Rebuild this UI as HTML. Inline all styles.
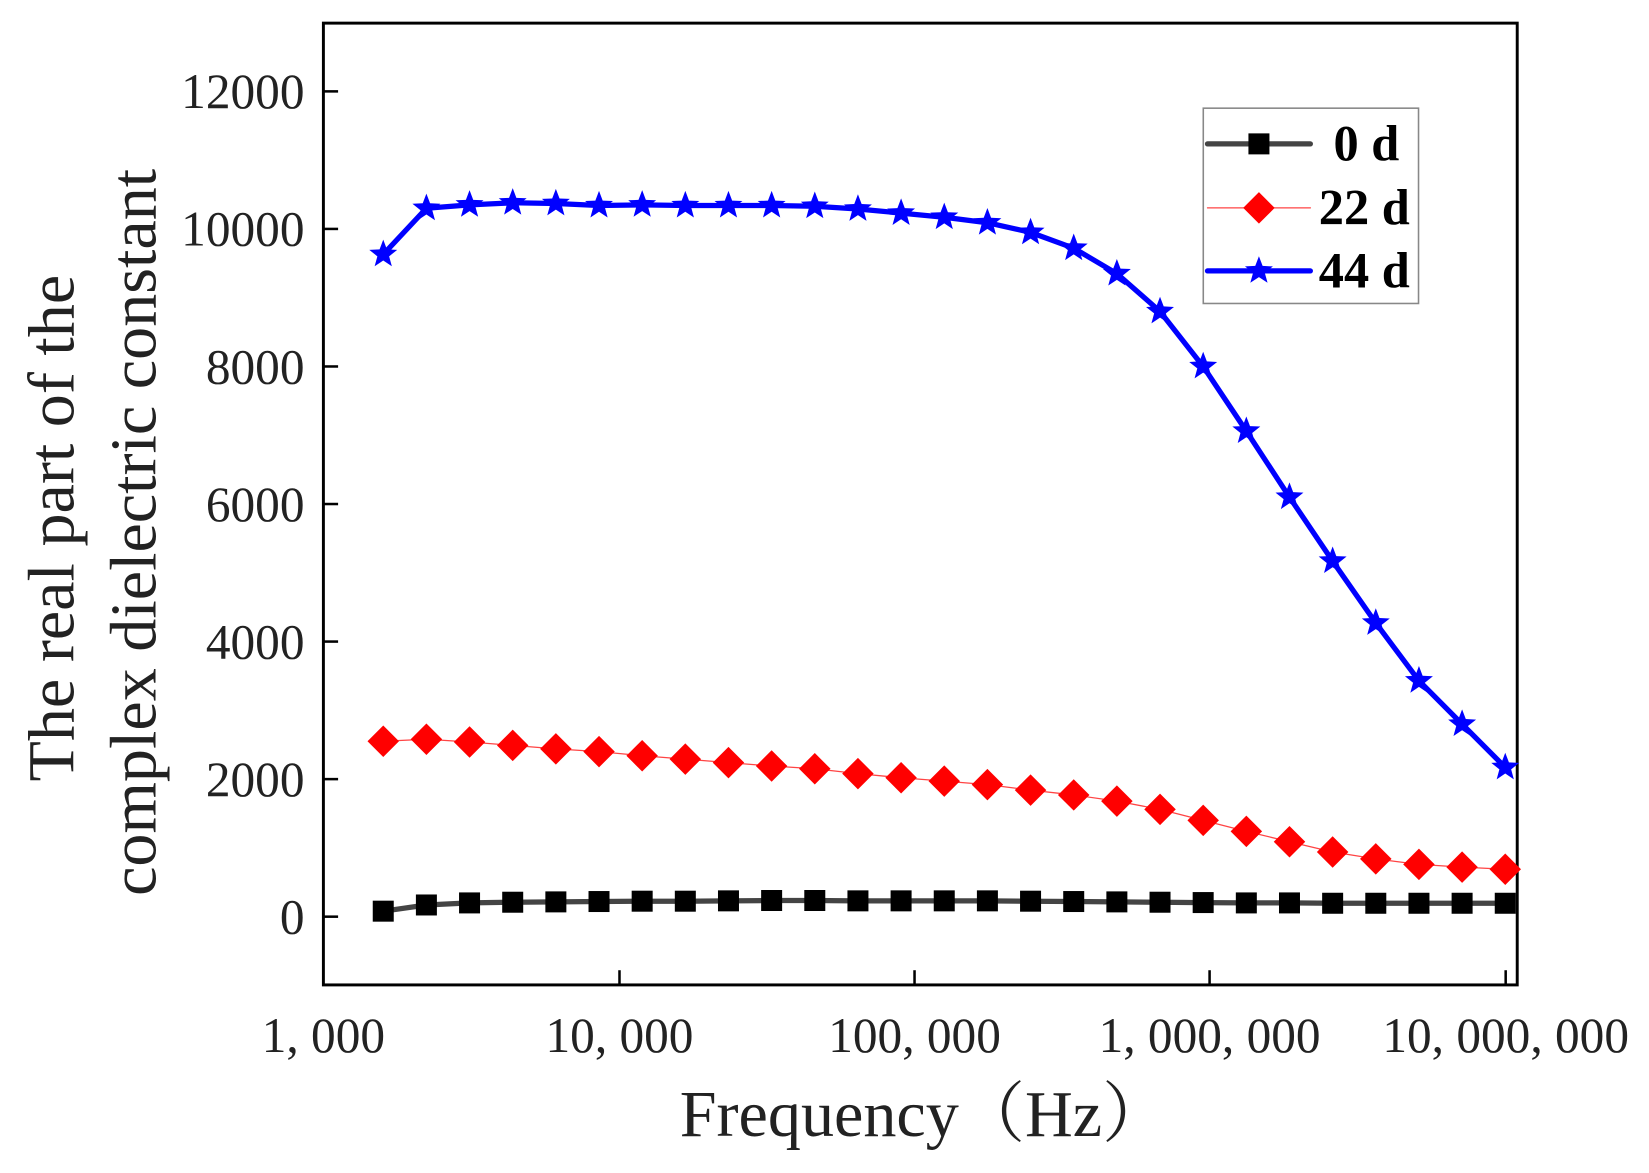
<!DOCTYPE html>
<html><head><meta charset="utf-8"><style>
html,body{margin:0;padding:0;background:#fff;}
svg{display:block;}
</style></head><body>
<svg id="s" width="1649" height="1173" viewBox="0 0 1570.5 1117.1" xmlns="http://www.w3.org/2000/svg" font-family="Liberation Serif, serif">
<rect x="0" y="0" width="1571" height="1118" fill="#fff"/>
<g id="ax" stroke="#000" stroke-width="2.8" fill="none">
<rect x="308" y="22" width="1137" height="916"/>
</g>
<g id="ticks" stroke="#000" stroke-width="2.4"></g>
<g id="yl" font-size="47" fill="#222" text-anchor="end"></g>
<g id="xl" font-size="47" fill="#222" text-anchor="middle"></g>
<text x="880" y="1082" font-size="63" text-anchor="middle" fill="#222" font-family="Liberation Serif, 'Noto Serif CJK SC', serif">Frequency（Hz）</text>
<text transform="translate(70,503) rotate(-90)" font-size="63" text-anchor="middle" fill="#222">The real part of the</text>
<text transform="translate(148,507) rotate(-90)" font-size="63" text-anchor="middle" fill="#222">complex dielectric constant</text>
<g id="series"></g>
<rect x="1146" y="103" width="205" height="186" fill="#fff" stroke="#888" stroke-width="1.5"/>
<g id="leg"></g>
</svg>
<script>
const NS="http://www.w3.org/2000/svg";
function el(p,t,a){const e=document.createElementNS(NS,t);for(const k in a)e.setAttribute(k,a[k]);document.getElementById(p).appendChild(e);return e;}
const Y=v=>873-v*0.0655;
for(let v=0;v<=12000;v+=2000){const y=Y(v);el('ticks','line',{x1:308,y1:y,x2:322,y2:y});const t=el('yl','text',{x:290,y:y+16});t.textContent=v;}
const xs=[308,590,871,1152,1434],xl=["1, 000","10, 000","100, 000","1, 000, 000","10, 000, 000"];
xs.forEach((x,i)=>{if(i>0)el('ticks','line',{x1:x,y1:938,x2:x,y2:924});const t=el('xl','text',{x:x,y:1002});t.textContent=xl[i];});
const blue=[9630,10300,10350,10380,10370,10340,10350,10340,10340,10340,10330,10290,10230,10170,10090,9950,9720,9350,8800,8000,7060,6100,5170,4270,3430,2800,2170];
const red=[2550,2580,2540,2490,2440,2400,2340,2290,2240,2190,2150,2080,2020,1970,1920,1840,1770,1680,1560,1400,1240,1090,940,840,760,720,690];
const blk=[80,170,200,210,215,220,225,225,230,235,235,230,230,230,230,225,220,215,210,205,200,200,195,195,195,195,195];
const X=i=>365+i*41.1;
function star(cx,cy,r){let p=[];for(let k=0;k<10;k++){const rr=k%2?r*0.42:r;const a=-Math.PI/2+k*Math.PI/5;p.push((cx+rr*Math.cos(a)).toFixed(1)+","+(cy+rr*Math.sin(a)).toFixed(1));}return p.join(" ");}
function mk(g,type,x,y){
 if(type==0)el(g,'rect',{x:x-10,y:y-10,width:20,height:20,fill:'#000'});
 else if(type==1)el(g,'polygon',{points:`${x},${y-15} ${x+15},${y} ${x},${y+15} ${x-15},${y}`,fill:'#f00'});
 else el(g,'polygon',{points:star(x,y,14),fill:'#00f'});
}
function series(d,col,w,type){
 el('series','polyline',{points:d.map((v,i)=>X(i)+","+Y(v)).join(" "),fill:'none',stroke:col,'stroke-width':w,'stroke-linejoin':'round'});
 d.forEach((v,i)=>mk('series',type,X(i),Y(v)));
}
series(blk,'#444',5,0);
series(red,'#f44',1.2,1);
series(blue,'#00f',5,2);
[[137,'#444',5,0,'0 d',1270],[198,'#f44',1.2,1,'22 d',1256],[258,'#00f',5,2,'44 d',1256]].forEach(r=>{
 el('leg','line',{x1:1150,y1:r[0],x2:1248,y2:r[0],stroke:r[1],'stroke-width':r[2],'stroke-linecap':'round'});
 mk('leg',r[3],1199,r[0]);
 const t=el('leg','text',{x:r[5],y:r[0]+16,'font-size':48,'font-weight':'bold',fill:'#000'});t.textContent=r[4];
});
</script>
</body></html>
